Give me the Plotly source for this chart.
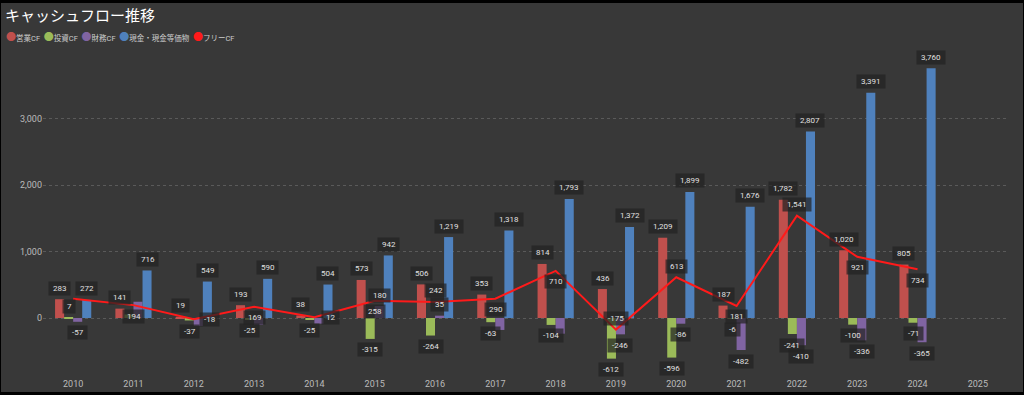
import plotly.graph_objects as go

# ---------------- data ----------------
years = [2010, 2011, 2012, 2013, 2014, 2015, 2016, 2017, 2018, 2019, 2020, 2021, 2022, 2023, 2024]
axis_years = [2010, 2011, 2012, 2013, 2014, 2015, 2016, 2017, 2018, 2019, 2020, 2021, 2022, 2023, 2024, 2025]
operating_cf = [283, 141, 19, 193, 38, 573, 506, 353, 814, 436, 1209, 187, 1782, 1020, 805]
investing_cf = [7, 53, -37, -25, -25, -315, -264, -63, -104, -612, -596, -6, -241, -100, -71]
financing_cf = [-57, 245, -120, -100, -85, 180, 35, -180, -236, -246, -86, -482, -410, -336, -365]
cash = [272, 716, 549, 590, 504, 942, 1219, 1318, 1793, 1372, 1899, 1676, 2807, 3391, 3760]
free_cf = [290, 194, -18, 169, 12, 258, 242, 290, 710, -175, 613, 181, 1541, 921, 734]
series_names = ["営業CF", "投資CF", "財務CF", "現金・現金等価物", "フリーCF"]
y_ticks = [0, 1000, 2000, 3000]

# ---------------- style ----------------
W, H = 1024, 395
ML, MR, MT, MB = 43, 16, 50, 25
PW, PH = W - ML - MR, H - MT - MB
X_RANGE = [2009.5, 2025.5]
Y_RANGE = [-783, 4036]
BG = "#383838"
COLORS = ["#c0504d", "#9bbb59", "#8064a2", "#4f81bd", "#ff1a1a"]
BARGAP = 0.4
BAR_W = (1 - BARGAP) / 4
GAP = 11          # px distance of label centre from bar end / point
FONT = "Roboto, Noto Sans CJK JP, sans-serif"
LBL_SIZE = 8


def px(x):
    return ML + (x - X_RANGE[0]) / (X_RANGE[1] - X_RANGE[0]) * PW


def py(y):
    return MT + (Y_RANGE[1] - y) / (Y_RANGE[1] - Y_RANGE[0]) * PH


def fmt(v):
    return f"{v:,}"


def text_w(t):
    w = 0
    for ch in t:
        w += 2.2 if ch == "," else (3.0 if ch == "-" else 4.5)
    return w + 9


def box(cx, cy, t):
    w = text_w(t)
    return (cx - w / 2, cx + w / 2, cy - 5.5, cy + 5.5)


placed = []


def free(b):
    for p in placed:
        if b[0] < p[1] and b[1] > p[0] and b[2] < p[3] and b[3] > p[2]:
            return False
    return True


fig = go.Figure()
bar_series = [operating_cf, investing_cf, financing_cf, cash]
for k, vals in enumerate(bar_series):
    fig.add_trace(go.Bar(x=years, y=vals, name=series_names[k],
                         marker=dict(color=COLORS[k], line=dict(width=0)),
                         showlegend=False, hoverinfo="x+y"))

fig.add_trace(go.Scatter(x=years, y=free_cf, name=series_names[4], mode="lines",
                         line=dict(color=COLORS[4], width=2), showlegend=False))

annotations = []


def add_label(x, y, t, xs, ys):
    annotations.append(dict(
        x=x, y=y, xref="x", yref="y", text="\u00a0" + t + "\u00a0",
        showarrow=False, xshift=xs, yshift=ys,
        font=dict(family=FONT, size=LBL_SIZE, color="#e0e0e0"),
        bgcolor="rgba(34,34,34,0.72)", borderpad=2,
        xanchor="center", yanchor="middle"))


# bar labels (earlier series have priority, overlapping labels hidden)
for k, vals in enumerate(bar_series):
    for i, v in enumerate(vals):
        x = years[i] + (k - 1.5) * BAR_W
        t = fmt(v)
        ys = GAP if v >= 0 else -GAP
        b = box(px(x), py(v) - ys, t)
        if free(b):
            placed.append(b)
            add_label(x, v, t, 0, ys)

# free CF labels: above, below, right
for i, v in enumerate(free_cf):
    x = years[i]
    t = fmt(v)
    for xs, ys in [(0, GAP), (0, -GAP), (16, 0)]:
        b = box(px(x) + xs, py(v) - ys, t)
        if free(b):
            placed.append(b)
            add_label(x, v, t, xs, ys)
            break

# legend as text
legend_parts = []
for k, n in enumerate(series_names):
    legend_parts.append(
        f'<span style="color:{COLORS[k]};font-size:10px">●</span>{n}')
annotations.append(dict(
    xref="paper", yref="paper",
    x=(4 - ML) / PW, y=(H - MB - 38) / PH,
    xanchor="left", yanchor="middle", showarrow=False,
    text="\u00a0\u00a0".join(legend_parts),
    font=dict(family=FONT, size=7.5, color="#cccccc")))

# black frame around the card
shapes = [
    dict(type="rect", xref="paper", yref="paper", layer="below",
         x0=(1 - ML) / PW, x1=(W - 1 - ML) / PW,
         y0=(H - MB - (H - 3)) / PH, y1=(H - MB - 3) / PH,
         fillcolor=BG, line=dict(width=0)),
]

fig.update_layout(
    width=W, height=H,
    margin=dict(l=ML, r=MR, t=MT, b=MB, pad=0, autoexpand=False),
    paper_bgcolor="#000000", plot_bgcolor="rgba(0,0,0,0)",
    barmode="group", bargap=BARGAP, bargroupgap=0,
    title=dict(text="キャッシュフロー推移", x=5 / W, xanchor="left",
               y=1 - 16 / H, yanchor="middle",
               font=dict(family="Noto Sans CJK JP", size=15, color="#ffffff")),
    xaxis=dict(range=X_RANGE, tickvals=axis_years, ticktext=[str(y) for y in axis_years],
               showgrid=False, zeroline=False, showline=False,
               ticks="outside", ticklen=5, tickcolor="rgba(0,0,0,0)", automargin=False,
               tickfont=dict(family=FONT, size=9, color="#bbbbbb")),
    yaxis=dict(range=Y_RANGE, tickvals=y_ticks, ticktext=[fmt(v) for v in y_ticks],
               showgrid=True, gridcolor="#5a5a5a", griddash="dot", gridwidth=1,
               zeroline=False, showline=False, ticks="", automargin=False,
               tickfont=dict(family=FONT, size=9, color="#bbbbbb")),
    annotations=annotations, shapes=shapes,
    showlegend=False,
)

fig.write_html("out.html", config={"displayModeBar": False},
               post_script="document.body.style.margin='0';document.body.style.background='#000';")
